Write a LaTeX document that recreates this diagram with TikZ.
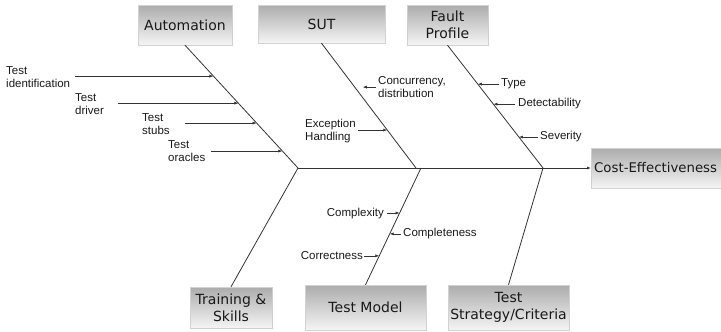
\documentclass[tikz,border=0pt]{standalone}
\usepackage{fontspec}
\setmainfont{Liberation Sans}
\newfontfamily\causefont{DejaVu Sans}
\usetikzlibrary{arrows.meta}

\tikzset{
    cause/.style={draw=gray!35, top color=gray!65, bottom color=gray!8, text=black!90,
        font=\causefont\fontsize{14}{17}\selectfont, align=center, inner sep=0pt},
    bone/.style={draw=black!80, line width=0.8pt},
    twig/.style={draw=black!80, line width=0.6pt, -{Latex[length=4pt,width=3pt]}},
    lbl/.style={font=\fontsize{11.5}{13}\selectfont, text=black!90, align=left, inner sep=0pt}
}

\begin{document}
\begin{tikzpicture}[x=1pt,y=-1pt]
                            \useasboundingbox (0,0) rectangle (721,332);

                            % category boxes
                            \node[cause, minimum width=94pt, minimum height=40pt] (auto) at (185,25) {Automation};
                            \node[cause, minimum width=127pt, minimum height=38pt] (sut) at (321.5,24) {SUT};
                            \node[cause, minimum width=81pt, minimum height=40pt] (fault) at (447.5,25) {Fault\\Profile};
                            \node[cause, minimum width=82pt, minimum height=41pt] (train) at (231,307.5) {Training \&\\Skills};
                            \node[cause, minimum width=121pt, minimum height=45pt] (model) at (365.5,307.5) {Test Model};
                            \node[cause, minimum width=121pt, minimum height=45pt] (strat) at (508.5,307.5) {Test\\Strategy/Criteria};
                            \node[cause, anchor=west, minimum height=40pt, text width=140pt, align=left, inner xsep=3pt,
                                font=\causefont\fontsize{13.3}{17}\selectfont] (cost) at (591,168) {Cost-Effectiveness};

                            % spine and bones
                            \coordinate (j1) at (298,168);
                            \coordinate (j2) at (416,168);
                            \coordinate (j3) at (421,168);
                            \coordinate (j4) at (543,168);

                            \draw[bone] (auto.south) -- coordinate[pos=.252] (a1) coordinate[pos=.472] (a2)
                                coordinate[pos=.634] (a3) coordinate[pos=.862] (a4) (j1);
                            \draw[bone] (sut.south) -- coordinate[pos=.352] (s1) coordinate[pos=.696] (s2) (j2);
                            \draw[bone] (fault.south) -- coordinate[pos=.317] (f1) coordinate[pos=.48] (f2)
                                coordinate[pos=.748] (f3) (j4);
                            \draw[bone] (train.north) -- (j1);
                            \draw[bone] (model.north) -- coordinate[pos=.248] (m1) coordinate[pos=.436] (m2)
                                coordinate[pos=.615] (m3) (j3);
                            \draw[bone] (strat.north) -- (j4);
                            \draw[bone, -{Latex[length=4pt,width=3pt]}] (j1) -- (cost.west);

                            % automation
                            \node[lbl, anchor=west] (tid) at (6,77) {Test\\identification};
                            \node[lbl, anchor=west] (tdr) at (75,104) {Test\\driver};
                            \node[lbl, anchor=west] (tst) at (142,124) {Test\\stubs};
                            \node[lbl, anchor=west] (tor) at (168,151) {Test\\oracles};
                            \draw[twig] ([xshift=-138pt]a1) -- (a1);
                            \draw[twig] ([xshift=-120pt]a2) -- (a2);
                            \draw[twig] ([xshift=-72pt]a3) -- (a3);
                            \draw[twig] ([xshift=-71pt]a4) -- (a4);

                            % sut
                            \node[lbl, anchor=west] (conc) at (378,87) {Concurrency,\\distribution};
                            \node[lbl, anchor=west] (exc) at (305,131) {Exception\\Handling};
                            \draw[twig] ([xshift=21pt]s1) -- ([xshift=8pt]s1);
                            \draw[twig] ([xshift=-29pt]s2) -- (s2);

                            % fault profile
                            \node[lbl, anchor=west] (type) at (501,84) {Type};
                            \node[lbl, anchor=west] (det) at (518,104) {Detectability};
                            \node[lbl, anchor=west] (sev) at (540,137) {Severity};
                            \draw[twig] ([xshift=21pt]f1) -- (f1);
                            \draw[twig] ([xshift=22pt]f2) -- (f2);
                            \draw[twig] ([xshift=19pt]f3) -- (f3);

                            % test model
                            \node[lbl, anchor=east] (cplx) at (384,214) {Complexity};
                            \node[lbl, anchor=west] (cmpl) at (403,234) {Completeness};
                            \node[lbl, anchor=east] (corr) at (363,256) {Correctness};
                            \draw[twig] ([xshift=-13pt]m3) -- (m3);
                            \draw[twig] ([xshift=11pt]m2) -- (m2);
                            \draw[twig] ([xshift=-15pt]m1) -- (m1);

                        \end{tikzpicture}
\end{document}
